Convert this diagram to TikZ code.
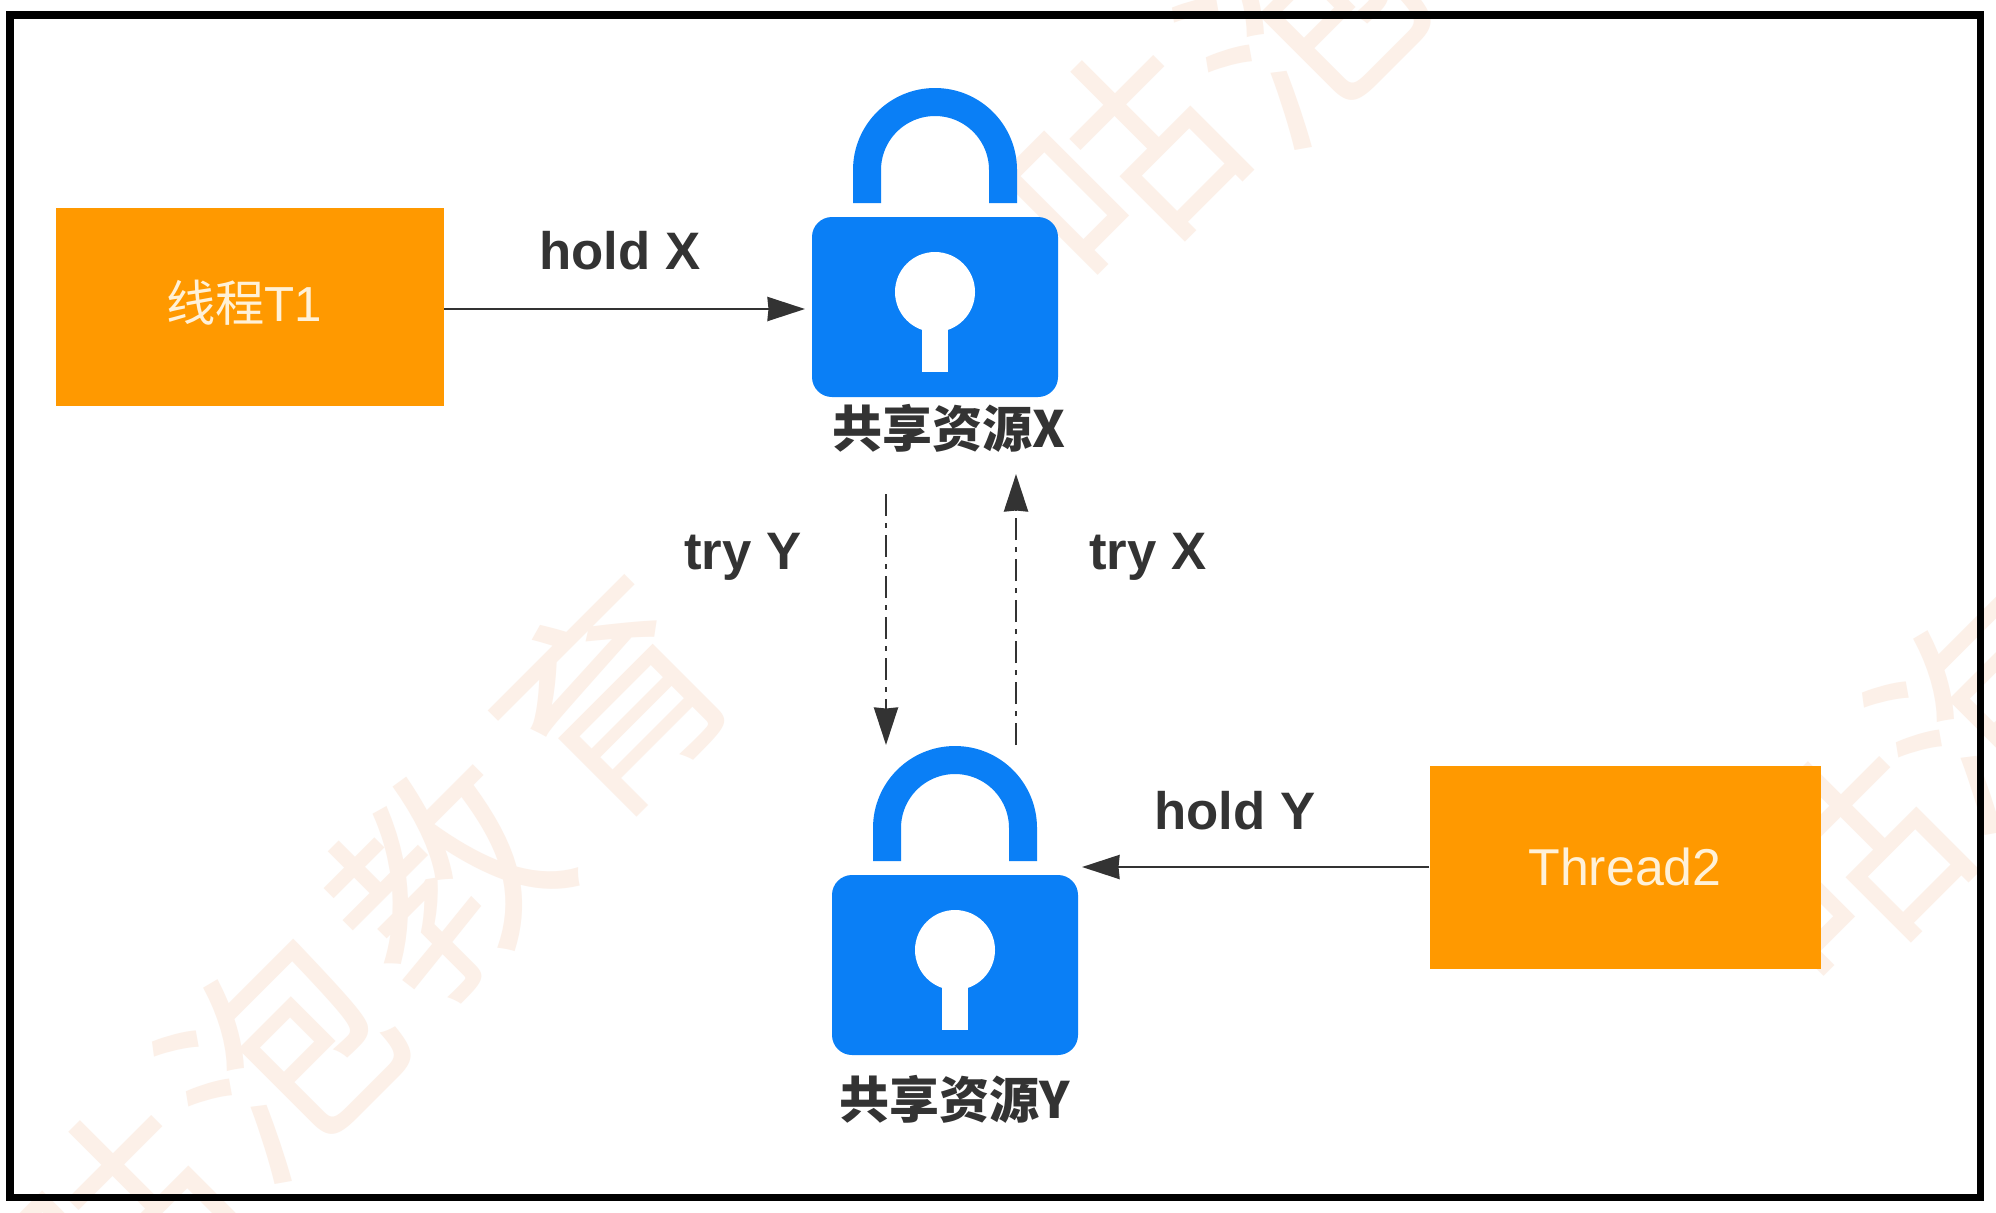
\documentclass[tikz,border=0pt]{standalone}
\usepackage{fontspec}
\usepackage{xcolor}
\usetikzlibrary{arrows.meta,positioning}
\setmainfont{Liberation Sans}
\newfontfamily\cjkfont{Noto Sans CJK SC}
\definecolor{orangebox}{HTML}{FF9900}
\definecolor{lockblue}{HTML}{0A7FF6}
\definecolor{dark}{HTML}{333333}
\definecolor{cream}{HTML}{FFF1D8}
\definecolor{markcolor}{HTML}{FCF0E8}
\tikzset{
    % Orange thread box
    threadbox/.style={
        rectangle,
        minimum width=7.76cm,
        minimum height=3.96cm,
        fill=orangebox,
        inner sep=0pt
    },
    thread text/.style={
        text=cream,
        inner sep=0pt,
        font=\fontsize{28}{35}\selectfont
    },
    % Lock parts
    lockbody/.style={
        rectangle,
        rounded corners=0.4cm,
        minimum width=4.92cm,
        minimum height=3.6cm,
        fill=lockblue,
        inner sep=0pt,
        outer sep=0.14cm
    },
    lockhole/.style={fill=white},
    lockbow/.style={line width=0.56cm, draw=lockblue},
    % Label style
    label text/.style={
        font=\fontsize{30}{36}\selectfont\bfseries,
        text=dark,
        inner sep=0pt
    },
    name text/.style={
        font=\fontsize{28.5}{34}\selectfont\cjkfont\bfseries,
        text=dark,
        inner sep=0pt
    },
    % Arrow styles
    flow/.style={
        -{Stealth[length=0.75cm, width=0.48cm, inset=0.02cm]},
        line width=1.5pt,
        color=dark
    },
    tryflow/.style={
        flow,
        dash pattern=on 0.44cm off 0.14cm on 0.1cm off 0.14cm
    },
    % Watermark
    watermark/.style={
        font=\fontsize{125}{125}\selectfont\cjkfont,
        text=markcolor,
        rotate=45,
        inner sep=0pt
    }
}
% x y name
\newcommand{\drawlock}[3]{
    \draw[lockbow] (#1-68,#2-104) -- (#1-68,#2-137) arc[start angle=180, end angle=360, radius=68] -- (#1+68,#2-104);
    \node[lockbody] (#3) at (#1,#2) {};
    \fill[lockhole] (#1,#2-15) circle[radius=40];
    \fill[lockhole] (#1-13,#2) rectangle (#1+13,#2+65);
}

\begin{document}
\begin{tikzpicture}[x=0.2mm, y=-0.2mm]
        \useasboundingbox (0,0) rectangle (1996,1212);
        \fill[white] (0,0) rectangle (1996,1212);

        % Watermark
        \foreach \wx/\wy/\wc/\wn in {118/1225/咕/wa, 280/1054/泡/wb, 444/879/教/wc, 612/698/育/wd,
            1120/165/咕/we, 1300/20/泡/wf, 1846/866/咕/wg, 1990/705/泡/wh}
            \node[watermark] (\wn) at (\wx,\wy) {\wc};

        % Frame
        \draw[line width=4pt, black] (10,15) rectangle (1980,1197);

        % Threads
        \node[threadbox] (t1) at (250,307) {};
        \node[thread text] (t1name) at (244,303) {\cjkfont 线程\rmfamily T1};
        \node[threadbox, minimum height=4.06cm, minimum width=7.82cm] (t2) at (1625,867) {};
        \node[thread text, font=\fontsize{29.5}{35}\selectfont] (t2name) at (1625,867) {Thread2};

        % Locks
        \drawlock{935}{307}{lockx}
        \drawlock{955}{965}{locky}
        \node[name text] (namex) at (949,428) {共享资源X};
        \node[name text] (namey) at (955,1099) {共享资源Y};

        % Free arrow ends
        \coordinate (ystart) at (886,494);
        \coordinate (yend) at (886,745);
        \coordinate (xstart) at (1016,745);
        \coordinate (xend) at (1016,474);
        \coordinate (holdend) at (1082,867);

        % Connections
        \draw[flow] ([yshift=-0.04cm]t1.east) -- ([yshift=-0.04cm]lockx.west);
        \draw[flow] (t2.west) -- (holdend);
        \draw[tryflow] (ystart) -- (yend);
        \draw[tryflow] (xstart) -- (xend);

        % Labels
        \node[label text] (holdx) at (620,251) {hold X};
        \node[label text] (holdy) at (1235,811) {hold Y};
        \node[label text] (tryy) at (743,557) {try Y};
        \node[label text] (tryx) at (1148,557) {try X};

    \end{tikzpicture}
\end{document}
